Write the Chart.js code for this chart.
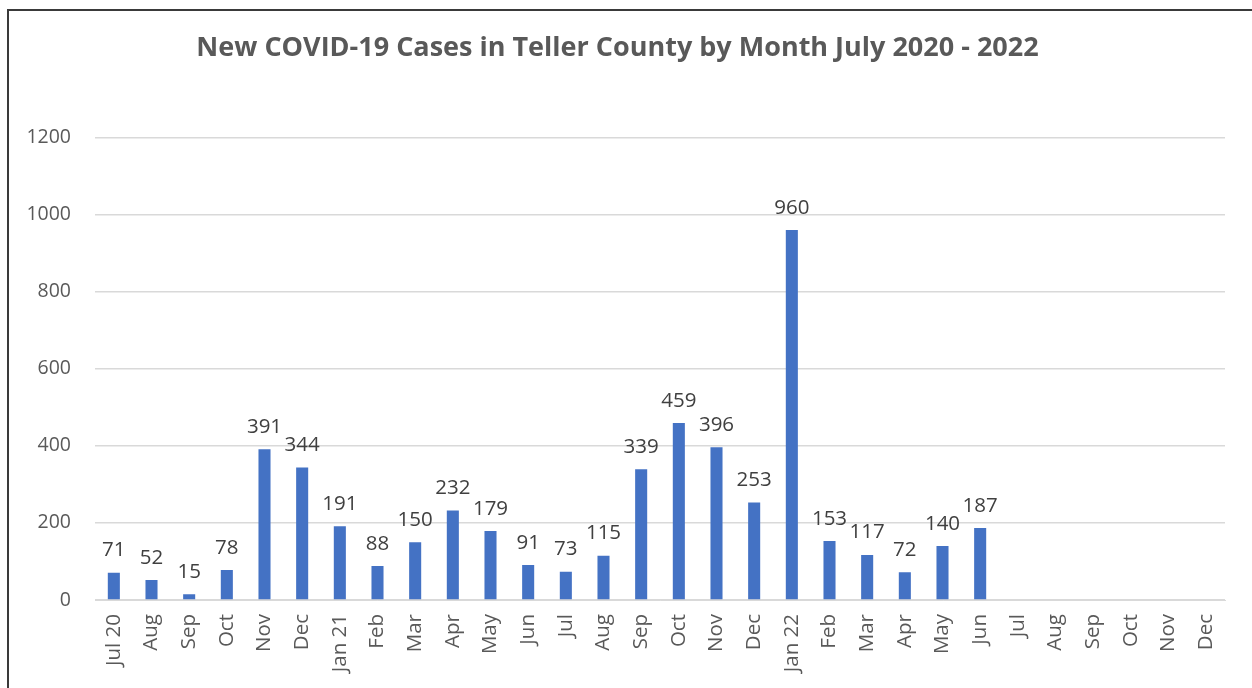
<!DOCTYPE html>
<html>
<head>
<meta charset="utf-8">
<script src="https://cdn.jsdelivr.net/npm/chart.js@4/dist/chart.umd.min.js"></script>
<style>
  html, body { margin: 0; padding: 0; background: #ffffff; overflow: hidden; }
  #wrap { position: relative; width: 1252px; height: 688px; }
  #frame { position: absolute; left: 7px; top: 9px; right: -5px; bottom: -5px;
           border-top: 2px solid #3a3a3a; border-left: 2px solid #3a3a3a; pointer-events: none; }
  canvas { position: absolute; left: 0; top: 0; }
</style>
</head>
<body>
<div id="wrap">
  <canvas id="c" width="1252" height="688"></canvas>
  <div id="frame"></div>
</div>
<script>
const titleText = "New COVID-19 Cases in Teller County by Month July 2020 - 2022";
const categories = ["Jul 20","Aug","Sep","Oct","Nov","Dec","Jan 21","Feb","Mar","Apr","May","Jun",
  "Jul","Aug","Sep","Oct","Nov","Dec","Jan 22","Feb","Mar","Apr","May","Jun",
  "Jul","Aug","Sep","Oct","Nov","Dec"];
const newCases = [71,52,15,78,391,344,191,88,150,232,179,91,
  73,115,339,459,396,253,960,153,117,72,140,187,
  null,null,null,null,null,null];
const yTicks = [0,200,400,600,800,1000,1200];

const FONT = "'Open Sans', 'DejaVu Sans', sans-serif";

const valueLabels = {
  id: 'valueLabels',
  afterDatasetsDraw(chart) {
    const ctx = chart.ctx;
    const meta = chart.getDatasetMeta(0);
    ctx.save();
    ctx.font = "20.5px " + FONT;
    ctx.fillStyle = "#404040";
    ctx.textAlign = "center";
    ctx.textBaseline = "bottom";
    meta.data.forEach((bar, i) => {
      const v = chart.data.datasets[0].data[i];
      if (v === null || v === undefined) return;
      ctx.fillText(String(v), bar.x, bar.y - 12);
    });
    ctx.restore();
  }
};

new Chart(document.getElementById('c'), {
  type: 'bar',
  data: {
    labels: categories,
    datasets: [{
      data: newCases,
      backgroundColor: '#4472C4',
      borderWidth: 0,
      barPercentage: 0.64,
      categoryPercentage: 0.5
    }]
  },
  options: {
    responsive: false,
    animation: false,
    devicePixelRatio: 1,
    layout: { padding: { left: 10, right: 27, top: 0, bottom: 0 } },
    plugins: {
      legend: { display: false },
      tooltip: { enabled: false },
      title: {
        display: true,
        text: titleText,
        color: '#595959',
        font: { family: FONT, size: 27, weight: 'bold' },
        padding: { top: 32, bottom: 73 }
      }
    },
    scales: {
      x: {
        grid: { display: false },
        border: { display: true, color: '#d9d9d9', width: 1 },
        ticks: {
          color: '#595959',
          font: { family: FONT, size: 20.5 },
          minRotation: 90, maxRotation: 90,
          autoSkip: false,
          padding: 6
        },
        afterFit(scale) { scale.height = 88; }
      },
      y: {
        min: 0, max: 1200,
        afterBuildTicks(scale) { scale.ticks = yTicks.map(v => ({ value: v })); },
        grid: { color: '#d9d9d9', lineWidth: 1.5, drawTicks: false },
        border: { display: false },
        ticks: {
          color: '#595959',
          font: { family: FONT, size: 19.5 },
          padding: 24,
          callback: (v) => String(v)
        },
        afterFit(scale) { scale.width = 85; }
      }
    }
  },
  plugins: [valueLabels]
});
</script>
</body>
</html>
